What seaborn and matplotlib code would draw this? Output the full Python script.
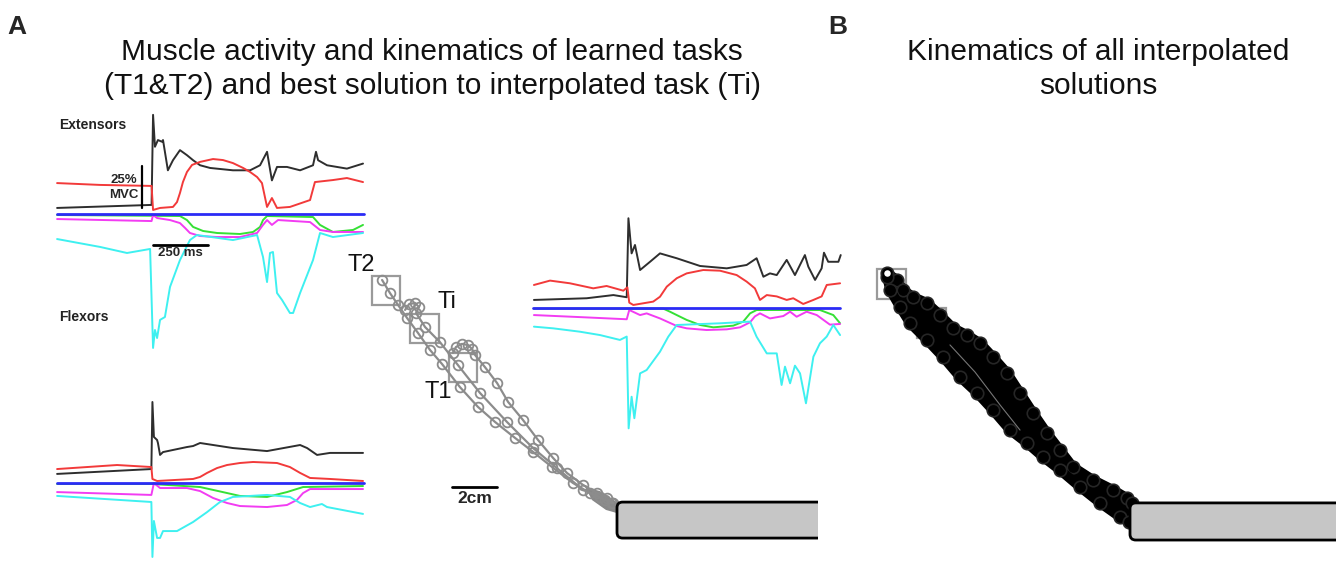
import numpy as np
import pandas as pd
import matplotlib
matplotlib.use("Agg")
import matplotlib.pyplot as plt
import seaborn as sns
from matplotlib.patches import FancyBboxPatch, Rectangle

sns.set_theme(style="white")
plt.rcParams['font.family'] = ['Liberation Sans', 'DejaVu Sans']

# ------------------------------------------------------------------
# EMG traces: time in ms from movement onset, activity in % MVC (offset display)
# ------------------------------------------------------------------
# Task T2 (top left)
t2_black_t = [-448, -2, 5, 14, 28, 47, 52, 75, 99, 132, 165, 194, 227, 274, 382, 463, 510, 543, 566, 590, 637, 699, 760, 774, 784, 826, 920, 996]
t2_black_v = [3.6, 5.4, 59, 40, 44, 43, 44, 26, 32, 38, 35, 32, 29, 27.4, 26, 26, 29, 37, 20, 28, 28, 26, 29, 37, 32, 29, 27, 30]
t2_red_t = [-448, -245, -2, 5, 38, 99, 118, 132, 146, 165, 189, 227, 288, 335, 382, 430, 463, 496, 519, 533, 543, 566, 590, 651, 746, 769, 854, 920, 996]
t2_red_v = [18.4, 17.3, 16.7, 2.4, 3.6, 4.2, 7.1, 12.5, 19, 25, 29.2, 31, 32.7, 32.1, 30.3, 27.4, 25, 22, 18.4, 10.1, 4.2, 9.5, 3.6, 4.2, 8.3, 19, 20.2, 21.4, 19]
t2_green_t = [-448, 132, 165, 194, 241, 307, 415, 477, 510, 524, 543, 760, 793, 854, 949, 996]
t2_green_v = [-0.6, -1.2, -3.6, -7.7, -10.1, -11.3, -11.9, -10.7, -7.7, -3.6, -1.2, -1.8, -6.5, -10.7, -9.5, -6.5]
t2_magenta_t = [-448, -2, 5, 24, 85, 132, 156, 179, 227, 307, 415, 496, 524, 543, 566, 595, 746, 793, 854, 996]
t2_magenta_v = [-3, -4.2, -0.6, -2.4, -3.6, -5.4, -8.3, -11.3, -13.1, -13.7, -13.7, -11.3, -6.5, -3.6, -6.5, -3.6, -4.8, -9.5, -10.7, -10.7]
t2_cyan_t = [-448, -245, -118, -9, 5, 14, 24, 38, 61, 85, 132, 179, 212, 382, 496, 524, 543, 557, 571, 590, 614, 651, 666, 699, 760, 793, 854, 996]
t2_cyan_v = [-14.9, -19.6, -23.2, -20.8, -79.7, -69, -73.8, -63, -61.3, -43.4, -27.4, -15.5, -12.5, -15.5, -12.5, -25.6, -40.5, -23.2, -22.6, -47, -51.2, -58.9, -58.9, -47, -27.4, -11.3, -13.7, -11.3]

# Interpolated task Ti (bottom left)
ti_black_t = [-448, -3, 2, 9, 24, 28, 38, 52, 165, 194, 227, 382, 543, 699, 732, 779, 840, 996]
ti_black_v = [5.4, 8.3, 48.2, 27.4, 25.6, 23.8, 16.7, 18.4, 21.4, 22, 23.8, 20.8, 19, 22.6, 20.8, 16.7, 17.9, 17.9]
ti_red_t = [-448, -165, -3, 2, 24, 194, 227, 260, 307, 354, 415, 477, 590, 651, 699, 746, 840, 996]
ti_red_v = [8.3, 10.7, 9.5, 2.4, 1.2, 2.4, 3.6, 6, 8.9, 10.7, 11.9, 12.5, 11.9, 9.5, 6, 3, 2.4, 1.2]
ti_green_t = [-448, 0, 227, 320, 415, 543, 637, 713, 996]
ti_green_v = [-0.6, -0.6, -2.4, -5.0, -7.7, -8.3, -5.4, -2.4, -1.8]
ti_magenta_t = [-448, -3, 9, 38, 165, 227, 288, 354, 415, 543, 637, 684, 713, 746, 996]
ti_magenta_v = [-5.4, -7.1, 0, -3, -3, -4.8, -8.9, -11.9, -13.7, -14.3, -13.1, -10.1, -6, -3.6, -3.6]
ti_cyan_t = [-448, -3, 2, 9, 24, 38, 52, 118, 194, 260, 321, 382, 543, 651, 699, 746, 802, 826, 996]
ti_cyan_v = [-7.7, -11.3, -44, -22.6, -32.7, -32.7, -28.6, -28.6, -23.2, -17.3, -11.3, -8.3, -7.1, -8.3, -11.9, -14.3, -12.5, -14.3, -18.4]

# Task T1 (right)
t1_black_t = [-444, -195, -69, -6, 2, 17, 33, 57, 104, 151, 230, 340, 466, 560, 607, 639, 670, 702, 749, 788, 835, 851, 883, 914, 925, 945, 993, 1004]
t1_black_v = [4.8, 5.8, 7.7, 6.4, 53.4, 32.5, 37.5, 22.6, 27.5, 32.5, 29.6, 25, 23.6, 25.6, 29.6, 18.6, 20.6, 19.6, 28.6, 19.6, 31.5, 24.6, 16.7, 23.6, 32.9, 27.5, 27.5, 31.5]
t1_red_t = [-444, -368, -274, -164, -101, -22, -3, 6, 25, 119, 151, 183, 230, 277, 355, 434, 513, 560, 599, 623, 655, 702, 749, 780, 827, 875, 914, 938, 1001]
t1_red_v = [13.7, 16.3, 14.7, 11.7, 13.1, 10.3, 12.3, 3.2, 1.8, 3.8, 6.7, 12.7, 17.7, 20.6, 22.6, 22.2, 19.6, 15.7, 11.7, 4.8, 7.7, 6.9, 4.8, 5.8, 2.4, 4.8, 6.9, 13.7, 14.7]
t1_green_t = [-444, 167, 198, 230, 277, 340, 403, 497, 544, 576, 607, 906, 969, 1001]
t1_green_v = [-0.4, -0.4, -2.2, -4.2, -7.1, -10.1, -11.5, -10.5, -8.1, -3.2, -1.2, -1.2, -4.2, -9.1]
t1_magenta_t = [-444, -195, -6, 6, 57, 88, 151, 230, 277, 371, 466, 529, 576, 599, 623, 670, 733, 765, 796, 843, 891, 953, 1001]
t1_magenta_v = [-4.2, -5.6, -6.7, -1.2, -4.2, -3.2, -6.2, -10.7, -12.1, -13.1, -12.7, -11.5, -8.5, -5.0, -3.2, -6.2, -4.8, -2.2, -5.2, -2.2, -4.2, -9.9, -9.5]
t1_cyan_t = [-444, -353, -227, -132, -38, -6, 3, 17, 30, 57, 88, 151, 190, 230, 434, 576, 607, 655, 702, 725, 741, 765, 788, 812, 840, 875, 906, 938, 969, 1001]
t1_cyan_v = [-11.1, -12.1, -14.1, -16.1, -19, -17, -71.6, -52.8, -65.6, -38.9, -36.9, -26, -17.1, -10.1, -9.1, -8.1, -17.1, -27, -27, -45.8, -34.9, -44.8, -34.3, -38.9, -56.7, -29, -21, -17, -10.1, -16.1]

baseline_t = [-448, 1000]
baseline_v = [0, 0]

# ------------------------------------------------------------------
# Hand kinematics (cm, origin at start position on the bar)
# ------------------------------------------------------------------
traj_t2_x = [-10.44, -10.09, -9.73, -9.33, -8.84, -8.31, -7.78, -6.98, -6.18, -5.42, -4.53, -3.73, -2.89, -1.96, -1.2, -0.53, -0.22]
traj_t2_y = [10.0, 9.42, 8.89, 8.31, 7.64, 6.89, 6.27, 5.24, 4.36, 3.69, 2.98, 2.36, 1.69, 0.98, 0.53, 0.22, 0.09]
traj_ti_x = [-9.42, -9.24, -8.98, -8.8, -8.93, -8.53, -7.87, -7.07, -6.09, -4.89, -3.73, -2.67, -1.51, -0.76, -0.22]
traj_ti_y = [8.67, 8.93, 8.98, 8.8, 8.53, 7.91, 7.24, 6.22, 4.98, 3.69, 2.53, 1.64, 0.67, 0.36, 0.09]
traj_t1_x = [-7.29, -7.16, -6.89, -6.62, -6.44, -6.31, -5.87, -5.33, -4.84, -4.18, -3.51, -2.84, -2.22, -1.51, -0.89, -0.44, -0.18]
traj_t1_y = [6.76, 7.02, 7.16, 7.11, 6.93, 6.67, 6.13, 5.42, 4.58, 3.78, 2.89, 2.09, 1.42, 0.89, 0.53, 0.31, 0.09]
tip_x = [-1.42, -0.76, 0.0, 0.0, -0.49, -1.11]
tip_y = [0.8, 0.62, 0.13, -0.36, -0.22, 0.22]

target_names = ["T2", "Ti", "T1"]
target_cx = [-10.27, -8.56, -6.84]
target_cy = [9.53, 7.84, 6.11]
target_size = 1.27

# Panel B envelope of all interpolated solutions (cm)
blob_upper_x = [-10.47, -10.04, -9.78, -9.35, -8.75, -8.19, -7.63, -7.03, -6.47, -5.91, -5.30, -4.74, -4.18, -3.58, -3.02, -2.46, -1.59, -0.73, -0.13, 0.09]
blob_upper_y = [10.0, 9.70, 9.27, 8.97, 8.71, 8.19, 7.63, 7.33, 6.98, 6.38, 5.69, 4.83, 3.97, 3.10, 2.37, 1.64, 1.08, 0.65, 0.30, 0.09]
blob_lower_x = [-10.47, -10.34, -9.91, -9.48, -8.75, -8.06, -7.33, -6.59, -5.91, -5.17, -4.44, -3.75, -3.02, -2.16, -1.29, -0.43, -0.04]
blob_lower_y = [9.83, 9.27, 8.53, 7.84, 7.11, 6.38, 5.52, 4.83, 4.09, 3.23, 2.67, 2.07, 1.51, 0.78, 0.09, -0.52, -0.73]
streak_x = [-7.76, -6.68, -5.6, -4.74]
streak_y = [6.9, 5.73, 4.31, 3.23]

# ------------------------------------------------------------------
W, H = 1336, 562
fig = plt.figure(figsize=(W / 100, H / 100), dpi=100)
fig.patch.set_facecolor("white")

MS_PER_PX = 4.72
PCT_PER_PX = 0.595


def px_axes(left, right, top, bottom):
    return fig.add_axes([left / W, 1 - bottom / H, (right - left) / W, (bottom - top) / H])


def emg_axes(left, right, top, bottom, onset, base):
    ax = px_axes(left, right, top, bottom)
    ax.set_xlim((left - onset) * MS_PER_PX, (right - onset) * MS_PER_PX)
    ax.set_ylim((base - bottom) * PCT_PER_PX, (base - top) * PCT_PER_PX)
    ax.axis("off")
    ax.patch.set_alpha(0)
    return ax


def kin_axes(left, right, top, bottom, ox, oy, scale):
    ax = px_axes(left, right, top, bottom)
    ax.set_xlim((left - ox) / scale, (right - ox) / scale)
    ax.set_ylim((oy - bottom) / scale, (oy - top) / scale)
    ax.axis("off")
    ax.patch.set_alpha(0)
    return ax


palette = {"ext_black": "#2e2e2e", "ext_red": "#f23a3a", "flx_green": "#35e035",
           "flx_magenta": "#f23cf2", "flx_cyan": "#3ef0f0"}
blue = "#2b2bf5"


def draw_emg(ax, traces):
    frames = []
    for name, t, v in traces:
        frames.append(pd.DataFrame({"t": t, "v": v, "muscle": name}))
    df = pd.concat(frames, ignore_index=True)
    sns.lineplot(data=df, x="t", y="v", hue="muscle", palette=palette, sort=False,
                 estimator=None, legend=False, lw=1.4, ax=ax,
                 solid_joinstyle="round", solid_capstyle="round")
    sns.lineplot(x=baseline_t, y=baseline_v, color=blue, lw=2.0, sort=False,
                 estimator=None, ax=ax)


# ---------------- Panel A kinematics ----------------
axk = kin_axes(340, 818, 255, 545, 617, 505, 22.5)
gray = "#8c8c8c"
for cx, cy in zip(target_cx, target_cy):
    axk.add_patch(Rectangle((cx - target_size / 2, cy - target_size / 2), target_size, target_size,
                            fill=False, ec="#9a9a9a", lw=1.6, zorder=1))
axk.fill(tip_x, tip_y, color="#888888", lw=0, zorder=2)
for tx, ty in [(traj_t2_x, traj_t2_y), (traj_ti_x, traj_ti_y), (traj_t1_x, traj_t1_y)]:
    sns.lineplot(x=tx, y=ty, sort=False, estimator=None, ax=axk, color=gray, lw=1.6,
                 marker="o", markersize=7, markerfacecolor="none", markeredgecolor=gray,
                 markeredgewidth=1.3, zorder=3)
axk.add_patch(FancyBboxPatch((0, -1.47), 12, 1.6, boxstyle="round,pad=0,rounding_size=0.25",
                             fc="#c6c6c6", ec="black", lw=2.0, zorder=4))
label_pos = {"T2": (-11.38, 10.67), "Ti": (-7.56, 9.02), "T1": (-7.96, 5.02)}
for name in target_names:
    axk.text(*label_pos[name], name, fontsize=17, ha="center", va="center", color="#111111")
axk.plot([-7.33, -5.33], [0.8, 0.8], color="black", lw=2)
axk.text(-6.33, 0.07, "2cm", fontsize=12.5, fontweight="bold", ha="center", va="baseline")

# ---------------- Panel A EMG ----------------
ax_t2 = emg_axes(50, 370, 105, 355, 152, 214)
draw_emg(ax_t2, [("ext_black", t2_black_t, t2_black_v), ("ext_red", t2_red_t, t2_red_v),
                 ("flx_green", t2_green_t, t2_green_v), ("flx_magenta", t2_magenta_t, t2_magenta_v),
                 ("flx_cyan", t2_cyan_t, t2_cyan_v)])
ax_t2.plot([5, 264], [-18.4, -18.4], color="black", lw=2)
ax_t2.text(135, -23.5, "250 ms", fontsize=9.5, fontweight="bold", ha="center", va="center")
ax_t2.plot([-47, -47], [3.6, 28.6], color="black", lw=1.6)
ax_t2.text(-70, 20.2, "25%", fontsize=9.5, fontweight="bold", ha="right", va="center")
ax_t2.text(-66, 11.3, "MVC", fontsize=9.5, fontweight="bold", ha="right", va="center")
ax_t2.text(-439, 53, "Extensors", fontsize=10, fontweight="bold", ha="left", va="center", color="#222222")
ax_t2.text(-439, -61.3, "Flexors", fontsize=10, fontweight="bold", ha="left", va="center", color="#222222")

ax_ti = emg_axes(50, 370, 395, 562, 152, 483)
draw_emg(ax_ti, [("ext_black", ti_black_t, ti_black_v), ("ext_red", ti_red_t, ti_red_v),
                 ("flx_green", ti_green_t, ti_green_v), ("flx_magenta", ti_magenta_t, ti_magenta_v),
                 ("flx_cyan", ti_cyan_t, ti_cyan_v)])

ax_t1 = emg_axes(527, 845, 210, 440, 628, 308)
draw_emg(ax_t1, [("ext_black", t1_black_t, t1_black_v), ("ext_red", t1_red_t, t1_red_v),
                 ("flx_green", t1_green_t, t1_green_v), ("flx_magenta", t1_magenta_t, t1_magenta_v),
                 ("flx_cyan", t1_cyan_t, t1_cyan_v)])

# ---------------- Panel B ----------------
axb = kin_axes(860, 1336, 255, 550, 1130, 505, 23.2)
for cx, cy in zip(target_cx, target_cy):
    axb.add_patch(Rectangle((cx - target_size / 2, cy - target_size / 2), target_size, target_size,
                            fill=False, ec="#9a9a9a", lw=1.6, zorder=1))
axb.fill(blob_upper_x + blob_lower_x[::-1], blob_upper_y + blob_lower_y[::-1],
         color="black", lw=0, zorder=2)
for bx, by in [(blob_upper_x, blob_upper_y), (blob_lower_x, blob_lower_y)]:
    sns.lineplot(x=bx, y=by, sort=False, estimator=None, ax=axb, color="black", lw=7,
                 marker="o", markersize=9, markerfacecolor="black", markeredgecolor="#262626",
                 markeredgewidth=1.2, zorder=3)
sns.lineplot(x=streak_x, y=streak_y, sort=False, estimator=None, ax=axb, color="#777777",
             lw=0.8, zorder=4)
axb.plot(blob_upper_x[:1], blob_upper_y[:1], marker="o", ms=6, mfc="white", mec="black",
         mew=1.3, zorder=5)
axb.add_patch(FancyBboxPatch((0, -1.51), 12, 1.6, boxstyle="round,pad=0,rounding_size=0.25",
                             fc="#c6c6c6", ec="black", lw=2.0, zorder=6))

# ---------------- Titles ----------------
fig.text(7 / W, 1 - 15 / H, "A", fontsize=19, fontweight="bold", ha="left", va="top")
fig.text(828 / W, 1 - 15 / H, "B", fontsize=19, fontweight="bold", ha="left", va="top")
fig.text(432 / W, 1 - 38 / H,
         "Muscle activity and kinematics of learned tasks\n(T1&T2) and best solution to interpolated task (Ti)",
         fontsize=21.5, ha="center", va="top", linespacing=1.28, color="#111111")
fig.text(1098 / W, 1 - 38 / H, "Kinematics of all interpolated\nsolutions",
         fontsize=21.5, ha="center", va="top", linespacing=1.28, color="#111111")

fig.savefig("out.png", dpi=100, facecolor="white")
